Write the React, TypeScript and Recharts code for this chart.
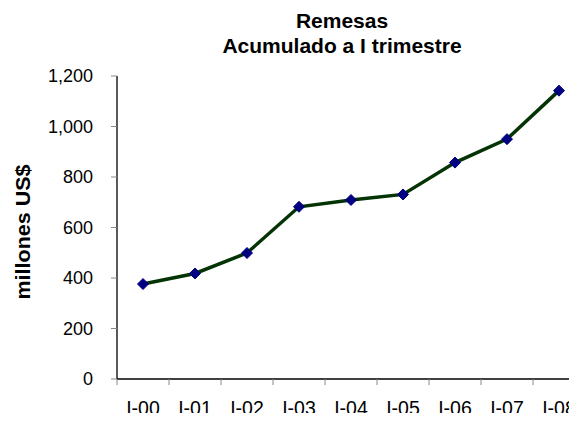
import React from 'react';
import { LineChart, Line, XAxis, YAxis } from 'recharts';

const categories = ['I-00', 'I-01', 'I-02', 'I-03', 'I-04', 'I-05', 'I-06', 'I-07', 'I-08'];
const remesas = [376, 418, 499, 682, 709, 731, 857, 950, 1142];
const yTicks = [0, 200, 400, 600, 800, 1000, 1200];

const FONT = '"Liberation Sans", Arial, sans-serif';
const CHART_H = 421;
const X_AXIS_H = 42;
const AXIS_Y = CHART_H - X_AXIS_H;

// category boundaries get the tick marks, centres get the labels (Excel style)
const xTicks: number[] = [];
for (let i = 0; i <= categories.length * 2; i++) xTicks.push(i / 2 - 0.5);

const data = categories.map((c, i) => ({ x: i, name: c, value: remesas[i] }));

const XTick = (props: any) => {
  const { x, payload } = props;
  const v = payload.value;
  if (Number.isInteger(v)) {
    return (
      <text x={x} y={AXIS_Y + 36} textAnchor="middle" fontFamily={FONT} fontSize={19.5} fill="#000">
        {categories[v]}
      </text>
    );
  }
  return <line x1={x} x2={x} y1={AXIS_Y} y2={AXIS_Y + 6} stroke="#888" strokeWidth={1} />;
};

const Diamond = (props: any) => {
  const { cx, cy } = props;
  if (cx == null || cy == null) return null;
  const r = 5.5;
  return (
    <polygon
      points={`${cx},${cy - r} ${cx + r},${cy} ${cx},${cy + r} ${cx - r},${cy}`}
      fill="#000080"
      stroke="#000080"
    />
  );
};

const YLabel = () => (
  <text
    x={30}
    y={232}
    transform="rotate(-90, 30, 232)"
    textAnchor="middle"
    fontFamily={FONT}
    fontWeight="bold"
    fontSize={21}
    textLength={135}
    lengthAdjust="spacingAndGlyphs"
    fill="#000"
  >
    millones US$
  </text>
);

export default function App() {
  return (
    <div style={{ position: 'relative', width: 577, height: 421, margin: -8, overflow: 'hidden', background: '#fff' }}>
      <div
        style={{
          position: 'absolute',
          left: 342 - 200,
          width: 400,
          top: 8,
          textAlign: 'center',
          fontFamily: FONT,
          fontWeight: 'bold',
          fontSize: 21,
          lineHeight: '25px',
          color: '#000',
        }}
      >
        Remesas
        <br />
        Acumulado a I trimestre
      </div>
      <div style={{ position: 'absolute', left: 0, top: 0 }}>
        <LineChart width={590} height={CHART_H} data={data} margin={{ top: 76, right: 5, bottom: 0, left: 0 }}>
          <XAxis
            dataKey="x"
            type="number"
            domain={[-0.5, 8.5]}
            ticks={xTicks}
            interval={0}
            tickLine={false}
            tick={<XTick />}
            height={X_AXIS_H}
            axisLine={{ stroke: '#000', strokeWidth: 1.3 }}
          />
          <YAxis
            type="number"
            domain={[0, 1200]}
            ticks={yTicks}
            interval={0}
            width={117}
            tickSize={6}
            tickMargin={18}
            tickLine={{ stroke: '#888' }}
            axisLine={{ stroke: '#000', strokeWidth: 1.3 }}
            tick={{ fill: '#000', fontSize: 18, fontFamily: FONT }}
            tickFormatter={(v: number) => v.toLocaleString('en-US')}
            label={<YLabel />}
          />
          <Line
            type="linear"
            dataKey="value"
            stroke="#043304"
            strokeWidth={3.5}
            dot={<Diamond />}
            activeDot={false}
            isAnimationActive={false}
          />
        </LineChart>
      </div>
    </div>
  );
}
